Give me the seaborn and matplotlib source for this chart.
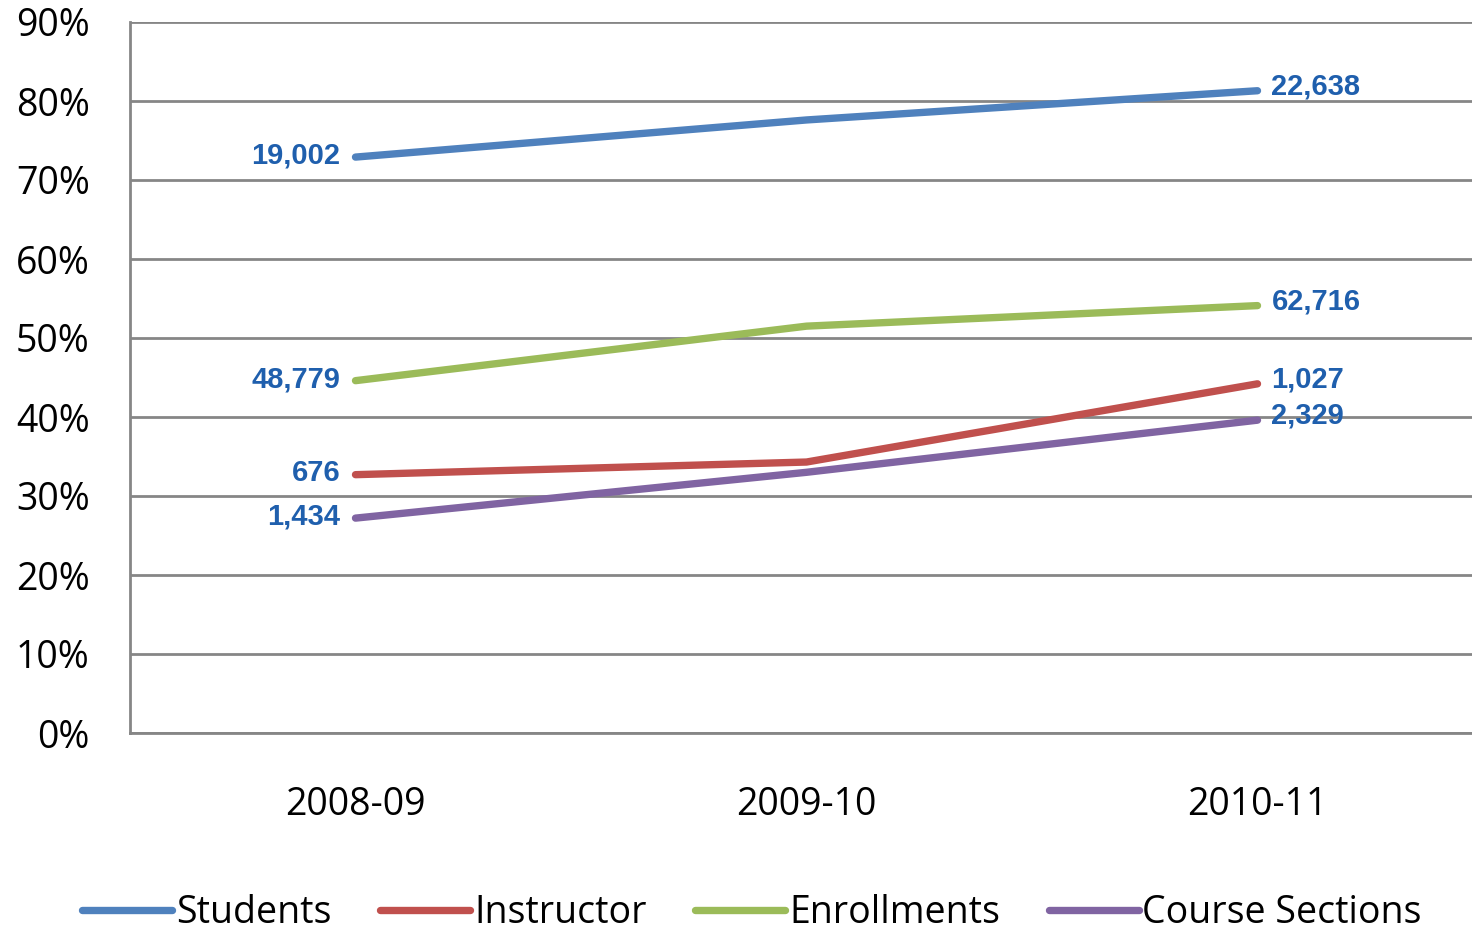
import matplotlib
matplotlib.use("Agg")
import matplotlib.pyplot as plt
import seaborn as sns
import pandas as pd

years = ["2008-09", "2009-10", "2010-11"]
students = [72.9, 77.6, 81.3]
instructor = [32.7, 34.3, 44.2]
enrollments = [44.6, 51.5, 54.1]
course_sections = [27.2, 33.0, 39.6]

series = ["Students", "Instructor", "Enrollments", "Course Sections"]
start_counts = ["19,002", "676", "48,779", "1,434"]
end_counts = ["22,638", "1,027", "62,716", "2,329"]
colors = ["#4F81BD", "#C0504D", "#9BBB59", "#8064A2"]

values = [students, instructor, enrollments, course_sections]
rows = []
for name, vals in zip(series, values):
    for i, v in enumerate(vals):
        rows.append({"pos": i + 0.5, "year": years[i], "pct": v, "series": name})
df = pd.DataFrame(rows)

sns.set_style("white")
plt.rcParams["font.family"] = ["Open Sans", "DejaVu Sans"]
plt.rcParams["text.color"] = "black"

fig = plt.figure(figsize=(14.72, 9.31), dpi=100)
# the plot area runs a little past the right edge, as in the original
ax = fig.add_axes([130 / 1472, 1 - 733 / 931, (1483 - 130) / 1472, (733 - 22) / 931])

sns.lineplot(data=df, x="pos", y="pct", hue="series", hue_order=series,
             palette=colors, linewidth=5.3, solid_capstyle="round", ax=ax,
             legend=True)

label_color = "#1F5FAD"
for name, vals, s0, s1 in zip(series, values, start_counts, end_counts):
    ax.annotate(s0, (0.5, vals[0]), xytext=(-11, 1), textcoords="offset points",
                ha="right", va="center", fontsize=21, fontweight="bold",
                color=label_color, family="Liberation Sans")
    ax.annotate(s1, (2.5, vals[-1]), xytext=(10, 3), textcoords="offset points",
                ha="left", va="center", fontsize=21, fontweight="bold",
                color=label_color, family="Liberation Sans")

ax.set_xlim(0, 3)
ax.set_ylim(0, 90)
ax.set_yticks(range(0, 91, 10))
ax.set_yticklabels([f"{v}%" for v in range(0, 91, 10)], fontsize=27)
ax.set_xticks([0, 1, 2, 3])
ax.set_xticklabels([])
ax.set_xticks([0.5, 1.5, 2.5], minor=True)
ax.set_xticklabels(years, minor=True, fontsize=27)
ax.tick_params(axis="x", which="minor", length=0, pad=38, labelcolor="black")
ax.tick_params(axis="x", which="major", length=9, width=2, color="#868686", direction="out")
ax.tick_params(axis="y", length=11, width=2, color="#868686", direction="out", pad=18,
               labelcolor="black")
ax.yaxis.grid(True, color="#868686", linewidth=2)
ax.set_axisbelow(True)
ax.set_xlabel("")
ax.set_ylabel("")
for side in ["top", "right"]:
    ax.spines[side].set_visible(False)
for side in ["left", "bottom"]:
    ax.spines[side].set_color("#868686")
    ax.spines[side].set_linewidth(2)

handles, labels = ax.get_legend_handles_labels()
ax.legend(handles, labels, loc="center", bbox_to_anchor=(752 / 1472, 1 - 913 / 931),
          bbox_transform=fig.transFigure, ncol=4, frameon=False, fontsize=27,
          handlelength=2.4, handletextpad=0.1, columnspacing=1.3, labelcolor="black")

fig.savefig("out.png", dpi=100)
